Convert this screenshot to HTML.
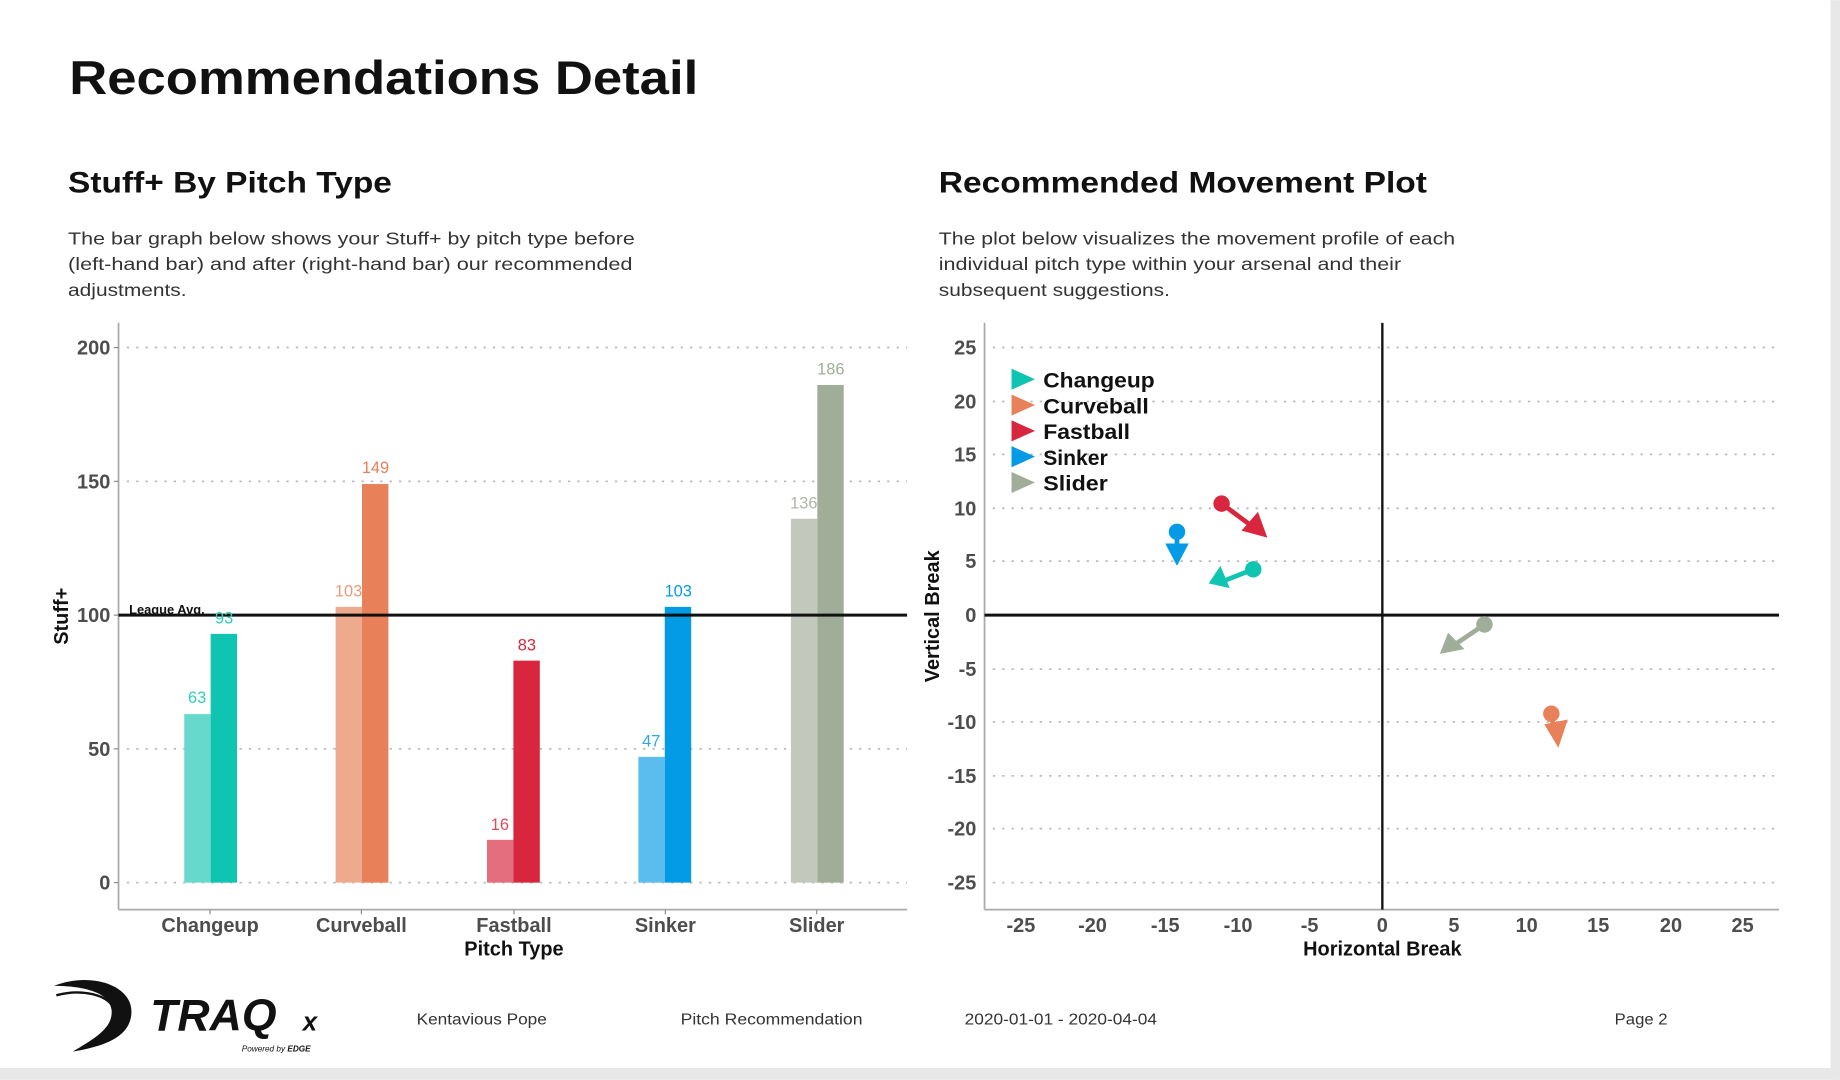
<!DOCTYPE html>
<html><head><meta charset="utf-8"><style>html,body{margin:0;padding:0;background:#fff}svg{display:block}</style></head>
<body>
<svg width="1840" height="1080" viewBox="0 0 1568 920" xmlns="http://www.w3.org/2000/svg" font-family="Liberation Sans, sans-serif">
<rect width="1568" height="920" fill="#fff"/>
<rect x="1560" y="0" width="8" height="920" fill="#e8e8e8"/>
<rect x="0" y="910" width="1568" height="10" fill="#e8e8e8"/>
<text x="59" y="80" font-size="40" font-weight="bold" fill="#111" textLength="536" lengthAdjust="spacingAndGlyphs">Recommendations Detail</text>
<text x="58" y="164" font-size="25" font-weight="bold" fill="#111" textLength="276" lengthAdjust="spacingAndGlyphs">Stuff+ By Pitch Type</text>
<text x="800" y="164" font-size="25" font-weight="bold" fill="#111" textLength="416" lengthAdjust="spacingAndGlyphs">Recommended Movement Plot</text>
<g font-size="15" fill="#333">
<text x="58" y="208" textLength="483" lengthAdjust="spacingAndGlyphs">The bar graph below shows your Stuff+ by pitch type before</text>
<text x="58" y="230" textLength="481" lengthAdjust="spacingAndGlyphs">(left-hand bar) and after (right-hand bar) our recommended</text>
<text x="58" y="252" textLength="101" lengthAdjust="spacingAndGlyphs">adjustments.</text>
<text x="800" y="208" textLength="440" lengthAdjust="spacingAndGlyphs">The plot below visualizes the movement profile of each</text>
<text x="800" y="230" textLength="394" lengthAdjust="spacingAndGlyphs">individual pitch type within your arsenal and their</text>
<text x="800" y="252" textLength="197" lengthAdjust="spacingAndGlyphs">subsequent suggestions.</text>
</g>
<!-- left chart -->
<g stroke="#bbb" stroke-width="1.5" stroke-dasharray="2,6">
<line x1="108" x2="773" y1="296" y2="296"/><line x1="108" x2="773" y1="410" y2="410"/>
<line x1="108" x2="773" y1="638" y2="638"/><line x1="108" x2="773" y1="752" y2="752"/>
</g>
<line x1="101" y1="275" x2="101" y2="775" stroke="#aaa" stroke-width="1.5"/>
<line x1="101" y1="775" x2="773" y2="775" stroke="#aaa" stroke-width="1.5"/>
<g stroke="#888"><line x1="97" x2="101" y1="296" y2="296"/><line x1="97" x2="101" y1="410" y2="410"/><line x1="97" x2="101" y1="524" y2="524"/><line x1="97" x2="101" y1="638" y2="638"/><line x1="97" x2="101" y1="752" y2="752"/>
<line x1="179" x2="179" y1="775" y2="779"/><line x1="308" x2="308" y1="775" y2="779"/><line x1="438" x2="438" y1="775" y2="779"/><line x1="567" x2="567" y1="775" y2="779"/><line x1="696" x2="696" y1="775" y2="779"/></g>
<g font-size="17" font-weight="bold" fill="#4d4d4d" text-anchor="end">
<text x="94" y="302">200</text><text x="94" y="416">150</text><text x="94" y="530">100</text><text x="94" y="644">50</text><text x="94" y="758">0</text>
</g>
<g font-size="17" font-weight="bold" fill="#4d4d4d" text-anchor="middle">
<text x="179" y="794">Changeup</text><text x="308" y="794">Curveball</text><text x="438" y="794">Fastball</text><text x="567" y="794">Sinker</text><text x="696" y="794">Slider</text>
</g>
<text x="438" y="814" font-size="17" font-weight="bold" fill="#111" text-anchor="middle">Pitch Type</text>
<text transform="translate(58,525) rotate(-90)" font-size="17" font-weight="bold" fill="#111" text-anchor="middle">Stuff+</text>
<rect x="157" y="608.4" width="22.5" height="143.6" fill="#66d9cc"/><rect x="179.5" y="540" width="22.5" height="212" fill="#0fc4b0"/>
<rect x="286" y="517" width="22.5" height="235" fill="#eeaa8e"/><rect x="308.5" y="412.3" width="22.5" height="339.7" fill="#e8805a"/>
<rect x="415" y="715.5" width="22.5" height="36.5" fill="#e46e7e"/><rect x="437.5" y="562.8" width="22.5" height="189.2" fill="#d7263d"/>
<rect x="544" y="644.8" width="22.5" height="107.2" fill="#5bbcee"/><rect x="566.5" y="517" width="22.5" height="235" fill="#039be5"/>
<rect x="674" y="441.9" width="22.5" height="310.1" fill="#c2c9bc"/><rect x="696.5" y="327.9" width="22.5" height="424.1" fill="#a0ad98"/>
<line x1="101" y1="524" x2="773" y2="524" stroke="#111" stroke-width="2.5"/>
<text x="110" y="523" font-size="11" font-weight="bold" fill="#111">League Avg.</text>
<g font-size="14" text-anchor="middle">
<text x="168" y="599" fill="#30cfbd">63</text><text x="191" y="531" fill="#30cfbd">93</text>
<text x="297" y="508" fill="#ee9a7a">103</text><text x="320" y="403" fill="#e8805a">149</text>
<text x="426" y="707" fill="#e04a5e">16</text><text x="449" y="554" fill="#d7263d">83</text>
<text x="555" y="636" fill="#2aa8e8">47</text><text x="578" y="508" fill="#039be5">103</text>
<text x="685" y="433" fill="#aeb6a8">136</text><text x="708" y="319" fill="#a0ad98">186</text>
</g>
<!-- right chart -->
<g stroke="#bbb" stroke-width="1.5" stroke-dasharray="2,6">
<line x1="846" x2="1516" y1="296" y2="296"/><line x1="846" x2="1516" y1="342" y2="342"/><line x1="846" x2="1516" y1="387" y2="387"/><line x1="846" x2="1516" y1="433" y2="433"/><line x1="846" x2="1516" y1="478" y2="478"/>
<line x1="846" x2="1516" y1="570" y2="570"/><line x1="846" x2="1516" y1="615" y2="615"/><line x1="846" x2="1516" y1="661" y2="661"/><line x1="846" x2="1516" y1="706" y2="706"/><line x1="846" x2="1516" y1="752" y2="752"/>
</g>
<line x1="839" y1="275" x2="839" y2="775" stroke="#aaa" stroke-width="1.5"/>
<line x1="839" y1="775" x2="1516" y2="775" stroke="#aaa" stroke-width="1.5"/>
<line x1="839" y1="524" x2="1516" y2="524" stroke="#111" stroke-width="2.5"/>
<line x1="1178" y1="275" x2="1178" y2="775" stroke="#111" stroke-width="2"/>
<g font-size="17" font-weight="bold" fill="#4d4d4d" text-anchor="end">
<text x="832" y="302">25</text><text x="832" y="348">20</text><text x="832" y="393">15</text><text x="832" y="439">10</text><text x="832" y="484">5</text><text x="832" y="530">0</text>
<text x="832" y="576">-5</text><text x="832" y="621">-10</text><text x="832" y="667">-15</text><text x="832" y="712">-20</text><text x="832" y="758">-25</text>
</g>
<g font-size="17" font-weight="bold" fill="#4d4d4d" text-anchor="middle">
<text x="870" y="794">-25</text><text x="931" y="794">-20</text><text x="993" y="794">-15</text><text x="1055" y="794">-10</text><text x="1116" y="794">-5</text><text x="1178" y="794">0</text>
<text x="1239" y="794">5</text><text x="1301" y="794">10</text><text x="1362" y="794">15</text><text x="1424" y="794">20</text><text x="1485" y="794">25</text>
</g>
<text x="1178" y="814" font-size="17" font-weight="bold" fill="#111" text-anchor="middle">Horizontal Break</text>
<text transform="translate(800,525) rotate(-90)" font-size="17" font-weight="bold" fill="#111" text-anchor="middle">Vertical Break</text>
<g font-size="18" font-weight="bold" fill="#111">
<path d="M862,314 L882,323 L862,332 Z" fill="#0fc4b0"/><text x="889" y="330" textLength="95" lengthAdjust="spacingAndGlyphs">Changeup</text>
<path d="M862,336 L882,345 L862,354 Z" fill="#e8805a"/><text x="889" y="352" textLength="90" lengthAdjust="spacingAndGlyphs">Curveball</text>
<path d="M862,358 L882,367 L862,376 Z" fill="#d7263d"/><text x="889" y="374" textLength="74" lengthAdjust="spacingAndGlyphs">Fastball</text>
<path d="M862,380 L882,389 L862,398 Z" fill="#039be5"/><text x="889" y="396" textLength="55" lengthAdjust="spacingAndGlyphs">Sinker</text>
<path d="M862,402 L882,411 L862,420 Z" fill="#a0ad98"/><text x="889" y="418" textLength="55" lengthAdjust="spacingAndGlyphs">Slider</text>
</g>
<!-- arrows -->
<g stroke-width="4">
<line x1="1041" y1="429" x2="1068" y2="449" stroke="#d7263d"/><path d="M1080,458 L1058,452 L1072,436 Z" fill="#d7263d"/><circle cx="1041" cy="429" r="7" fill="#d7263d"/>
<line x1="1003" y1="453" x2="1003" y2="466" stroke="#039be5"/><path d="M1003,482 L993,463 L1013,463 Z" fill="#039be5"/><circle cx="1003" cy="453" r="7" fill="#039be5"/>
<line x1="1068" y1="485" x2="1045" y2="494" stroke="#0fc4b0"/><path d="M1030,497 L1040,482 L1048,501 Z" fill="#0fc4b0"/><circle cx="1068" cy="485" r="7" fill="#0fc4b0"/>
<line x1="1265" y1="532" x2="1240" y2="549" stroke="#a0ad98"/><path d="M1227,557 L1234,539 L1248,553 Z" fill="#a0ad98"/><circle cx="1265" cy="532" r="7" fill="#a0ad98"/>
<line x1="1322" y1="608" x2="1324" y2="620" stroke="#e8805a"/><path d="M1328,637 L1316,617 L1336,613 Z" fill="#e8805a"/><circle cx="1322" cy="608" r="7" fill="#e8805a"/>
</g>
<!-- footer -->
<path d="M46,840 C75,828 112,838 112,862 C112,885 85,892 62,896 C80,885 97,876 95,860 C93,845 70,840 46,840 Z" fill="#111"/>
<path d="M48,848 C70,842 92,848 96,858" stroke="#111" stroke-width="2" fill="none"/>
<text x="128" y="878" font-size="38" font-weight="bold" font-style="italic" fill="#111">TRAQ</text>
<text x="258" y="878" font-size="22" font-weight="bold" font-style="italic" fill="#111">x</text>
<text x="206" y="896" font-size="7" font-style="italic" fill="#111">Powered by <tspan font-weight="bold">EDGE</tspan></text>
<g font-size="13.5" fill="#333">
<text x="355" y="873" textLength="111" lengthAdjust="spacingAndGlyphs">Kentavious Pope</text><text x="580" y="873" textLength="155" lengthAdjust="spacingAndGlyphs">Pitch Recommendation</text><text x="822" y="873" textLength="164" lengthAdjust="spacingAndGlyphs">2020-01-01 - 2020-04-04</text><text x="1376" y="873" textLength="45" lengthAdjust="spacingAndGlyphs">Page 2</text>
</g>
</svg>
</body></html>
